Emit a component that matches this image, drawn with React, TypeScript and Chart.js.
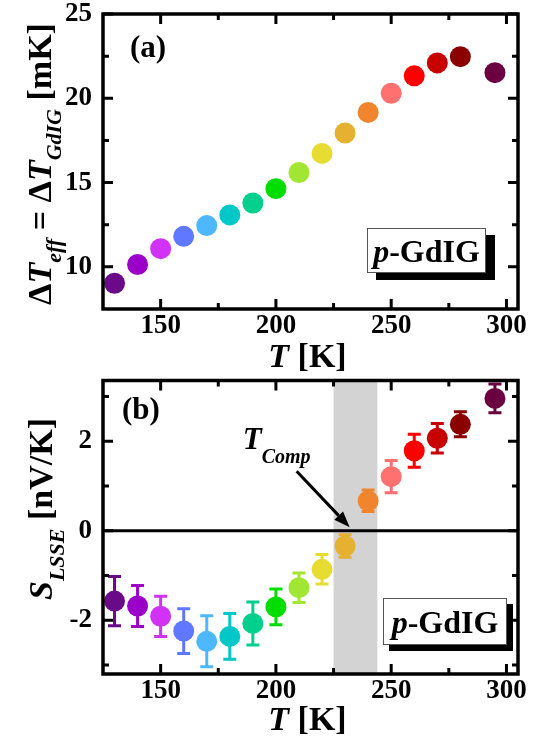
import React, { useEffect, useRef } from 'react';
import { Chart, registerables } from 'chart.js';

Chart.register(...registerables);

// ---------- data ----------
const temps = [130, 140, 150, 160, 170, 180, 190, 200, 210, 220, 230, 240, 250, 260, 270, 280, 295];
const dTeff = [9.03, 10.14, 11.08, 11.81, 12.45, 13.08, 13.79, 14.64, 15.6, 16.73, 17.94, 19.16, 20.3, 21.33, 22.1, 22.47, 21.52];
const sLsse = [-1.57, -1.68, -1.91, -2.24, -2.47, -2.36, -2.07, -1.7, -1.27, -0.86, -0.34, 0.67, 1.21, 1.79, 2.07, 2.38, 2.96];
const sErr = [0.55, 0.46, 0.45, 0.5, 0.57, 0.51, 0.48, 0.4, 0.33, 0.33, 0.25, 0.24, 0.36, 0.37, 0.33, 0.28, 0.32];
const pointColors = [
  '#6a0a88', '#9b00c8', '#d232f5', '#5f78ff', '#4db8ff', '#00c8c8', '#00d08c', '#00dd00',
  '#a0e632', '#e6dc32', '#e6b030', '#f0852d', '#ff7070', '#ff0000', '#c80000', '#8b0000', '#6b0040',
];
const xRange = [125, 305];
const xMajor = [150, 200, 250, 300];
const xMinor = [175, 225, 275];
const yRangeA = [7.5, 25];
const yMajorA = [10, 15, 20, 25];
const yMinorA = [12.5, 17.5, 22.5];
const yRangeB = [-3.2, 3.36];
const yMajorB = [-2, 0, 2];
const yMinorB = [-3, -1, 1, 3];
const compBand = [225, 244];
const arrowFrom = [209, 1.33];
const arrowTo = [232, 0.08];
const tCompAt = [185.6, 1.82];

// ---------- helpers ----------
const SERIF = "'Liberation Serif', 'Times New Roman', serif";
type Seg = { t: string; size: number; italic?: boolean; dy?: number; normal?: boolean };
const fontOf = (s: Seg) => `${s.italic ? 'italic ' : ''}${s.normal ? '' : 'bold '}${s.size}px ${SERIF}`;

function rich(ctx: CanvasRenderingContext2D, segs: Seg[], x: number, y: number, align: 'left' | 'center') {
  ctx.textBaseline = 'alphabetic';
  ctx.textAlign = 'left';
  let total = 0;
  const ws = segs.map((s) => {
    ctx.font = fontOf(s);
    const w = ctx.measureText(s.t).width;
    total += w;
    return w;
  });
  let cx = align === 'center' ? x - total / 2 : x;
  segs.forEach((s, i) => {
    ctx.font = fontOf(s);
    ctx.fillText(s.t, cx, y + (s.dy || 0));
    cx += ws[i];
  });
}

function drawFrame(chart: any, yMaj: number[], yMin: number[]) {
  const { ctx, chartArea: a, scales } = chart;
  const x = scales.x;
  const y = scales.y;
  ctx.save();
  ctx.strokeStyle = '#000';
  ctx.lineWidth = 3;
  ctx.lineCap = 'butt';
  const vt = (v: number, len: number) => {
    const p = x.getPixelForValue(v);
    ctx.beginPath();
    ctx.moveTo(p, a.bottom);
    ctx.lineTo(p, a.bottom - len);
    ctx.moveTo(p, a.top);
    ctx.lineTo(p, a.top + len);
    ctx.stroke();
  };
  const ht = (v: number, len: number) => {
    const p = y.getPixelForValue(v);
    ctx.beginPath();
    ctx.moveTo(a.left, p);
    ctx.lineTo(a.left + len, p);
    ctx.moveTo(a.right, p);
    ctx.lineTo(a.right - len, p);
    ctx.stroke();
  };
  xMajor.forEach((v) => vt(v, 10));
  xMinor.forEach((v) => vt(v, 6));
  yMaj.forEach((v) => ht(v, 10));
  yMin.forEach((v) => ht(v, 6));
  ctx.lineWidth = 3.5;
  ctx.strokeRect(a.left, a.top, a.right - a.left, a.bottom - a.top);
  ctx.restore();
}

function drawTag(ctx: CanvasRenderingContext2D, left: number, top: number, w: number, h: number, sx: number, sy: number, base: number) {
  ctx.save();
  ctx.fillStyle = '#000';
  ctx.fillRect(left + sx, top + sy, w, h);
  ctx.fillStyle = '#fff';
  ctx.fillRect(left, top, w, h);
  ctx.strokeStyle = '#555';
  ctx.lineWidth = 1;
  ctx.strokeRect(left + 0.5, top + 0.5, w - 1, h - 1);
  ctx.fillStyle = '#000';
  rich(ctx, [{ t: 'p', size: 32, italic: true }, { t: '-GdIG', size: 32 }], left + w / 2, top + base, 'center');
  ctx.restore();
}

function yTitle(ctx: CanvasRenderingContext2D, segs: Seg[], bx: number, cy: number) {
  ctx.save();
  ctx.translate(bx, cy);
  ctx.rotate(-Math.PI / 2);
  ctx.fillStyle = '#000';
  rich(ctx, segs, 0, 0, 'center');
  ctx.restore();
}

const tickFont = { family: SERIF, size: 27, weight: 'bold' as const, lineHeight: 1 };

const noPad = (s: any) => {
  s.paddingTop = 0;
  s.paddingBottom = 0;
  s.paddingLeft = 0;
  s.paddingRight = 0;
};

function baseOptions(yr: number[], yMaj: number[], padTop: number, xHeight: number) {
  return {
    responsive: false,
    animation: false as const,
    events: [],
    layout: { padding: { left: 0, right: 20, top: padTop, bottom: 0 } },
    plugins: { legend: { display: false }, tooltip: { enabled: false } },
    scales: {
      x: {
        type: 'linear' as const,
        min: xRange[0],
        max: xRange[1],
        grid: { display: false, drawTicks: false },
        border: { display: false },
        afterBuildTicks: (s: any) => {
          s.ticks = xMajor.map((v) => ({ value: v }));
        },
        afterFit: (s: any) => {
          s.height = xHeight;
          noPad(s);
        },
        ticks: { font: tickFont, color: '#000', padding: 4, maxRotation: 0, autoSkip: false, callback: (v: any) => String(v) },
      },
      y: {
        type: 'linear' as const,
        min: yr[0],
        max: yr[1],
        grid: { display: false, drawTicks: false },
        border: { display: false },
        afterBuildTicks: (s: any) => {
          s.ticks = yMaj.map((v) => ({ value: v }));
        },
        afterFit: (s: any) => {
          s.width = 103;
          noPad(s);
        },
        ticks: { font: tickFont, color: '#000', padding: 11, autoSkip: false, callback: (v: any) => String(v) },
      },
    },
  };
}

export default function App() {
  const topRef = useRef<HTMLCanvasElement>(null);
  const botRef = useRef<HTMLCanvasElement>(null);

  useEffect(() => {
    const topPlugin = {
      id: 'topDeco',
      afterDraw(chart: any) {
        const { ctx, chartArea: a } = chart;
        drawFrame(chart, yMajorA, yMinorA);
        ctx.save();
        ctx.fillStyle = '#000';
        rich(ctx, [{ t: '(a)', size: 31 }], 130, 57, 'left');
        drawTag(ctx, 367, 228, 119, 45, 9, 7, 34);
        rich(ctx, [{ t: 'T', size: 34, italic: true }, { t: ' [K]', size: 34 }], (a.left + a.right) / 2 - 3, 367, 'center');
        yTitle(
          ctx,
          [
            { t: 'Δ', size: 34 },
            { t: 'T', size: 34, italic: true },
            { t: 'eff', size: 22, italic: true, dy: 10 },
            { t: ' = Δ', size: 34 },
            { t: 'T', size: 34, italic: true },
            { t: 'GdIG', size: 22, italic: true, dy: 10 },
            { t: ' [mK]', size: 34 },
          ],
          51,
          164
        );
        ctx.restore();
      },
    };

    const botPlugin = {
      id: 'botDeco',
      beforeDatasetsDraw(chart: any) {
        const { ctx, chartArea: a, scales } = chart;
        const x = scales.x;
        const y = scales.y;
        ctx.save();
        const b0 = x.getPixelForValue(compBand[0]);
        const b1 = x.getPixelForValue(compBand[1]);
        ctx.fillStyle = '#d3d3d3';
        ctx.fillRect(b0, a.top, b1 - b0, a.bottom - a.top);
        const zy = y.getPixelForValue(0);
        ctx.strokeStyle = '#000';
        ctx.lineWidth = 3;
        ctx.beginPath();
        ctx.moveTo(a.left, zy);
        ctx.lineTo(a.right, zy);
        ctx.stroke();
        temps.forEach((t, i) => {
          const px = x.getPixelForValue(t);
          const pt = y.getPixelForValue(sLsse[i] + sErr[i]);
          const pb = y.getPixelForValue(sLsse[i] - sErr[i]);
          ctx.strokeStyle = pointColors[i];
          ctx.lineWidth = 3;
          ctx.beginPath();
          ctx.moveTo(px, pt);
          ctx.lineTo(px, pb);
          ctx.moveTo(px - 6.5, pt);
          ctx.lineTo(px + 6.5, pt);
          ctx.moveTo(px - 6.5, pb);
          ctx.lineTo(px + 6.5, pb);
          ctx.stroke();
        });
        ctx.restore();
      },
      afterDraw(chart: any) {
        const { ctx, chartArea: a, scales } = chart;
        const x = scales.x;
        const y = scales.y;
        drawFrame(chart, yMajorB, yMinorB);
        ctx.save();
        ctx.fillStyle = '#000';
        rich(ctx, [{ t: '(b)', size: 31 }], 122, 49, 'left');
        rich(
          ctx,
          [
            { t: 'T', size: 31, italic: true },
            { t: 'Comp', size: 20, italic: true, dy: 14 },
          ],
          x.getPixelForValue(tCompAt[0]),
          y.getPixelForValue(tCompAt[1]),
          'left'
        );
        // arrow
        const x0 = x.getPixelForValue(arrowFrom[0]);
        const y0 = y.getPixelForValue(arrowFrom[1]);
        const x1 = x.getPixelForValue(arrowTo[0]);
        const y1 = y.getPixelForValue(arrowTo[1]);
        const ang = Math.atan2(y1 - y0, x1 - x0);
        const hl = 16;
        const hw = 6;
        const bx = x1 - hl * Math.cos(ang);
        const by = y1 - hl * Math.sin(ang);
        ctx.strokeStyle = '#000';
        ctx.lineWidth = 3;
        ctx.beginPath();
        ctx.moveTo(x0, y0);
        ctx.lineTo(bx, by);
        ctx.stroke();
        ctx.beginPath();
        ctx.moveTo(x1, y1);
        ctx.lineTo(bx + hw * Math.sin(ang), by - hw * Math.cos(ang));
        ctx.lineTo(bx - hw * Math.sin(ang), by + hw * Math.cos(ang));
        ctx.closePath();
        ctx.fill();
        drawTag(ctx, 383, 228, 124, 47, 6, 6, 35);
        rich(ctx, [{ t: 'T', size: 34, italic: true }, { t: ' [K]', size: 34 }], (a.left + a.right) / 2 - 3, 360, 'center');
        yTitle(
          ctx,
          [
            { t: 'S', size: 34, italic: true },
            { t: 'LSSE', size: 22, italic: true, dy: 12 },
            { t: ' [nV/K]', size: 34 },
          ],
          52,
          139
        );
        ctx.restore();
      },
    };

    const top = new Chart(topRef.current!, {
      type: 'scatter',
      data: {
        datasets: [
          {
            data: temps.map((t, i) => ({ x: t, y: dTeff[i] })),
            pointBackgroundColor: pointColors,
            pointBorderWidth: 0,
            pointRadius: 10.5,
            showLine: false,
          },
        ],
      },
      options: baseOptions(yRangeA, yMajorA, 14, 71) as any,
      plugins: [topPlugin],
    });

    const bot = new Chart(botRef.current!, {
      type: 'scatter',
      data: {
        datasets: [
          {
            data: temps.map((t, i) => ({ x: t, y: sLsse[i] })),
            pointBackgroundColor: pointColors,
            pointBorderWidth: 0,
            pointRadius: 10.5,
            showLine: false,
          },
        ],
      },
      options: baseOptions(yRangeB, yMajorB, 10, 65) as any,
      plugins: [botPlugin],
    });

    return () => {
      top.destroy();
      bot.destroy();
    };
  }, []);

  return (
    <div style={{ position: 'absolute', left: 0, top: 0, width: 538, height: 739, background: '#fff' }}>
      <canvas ref={topRef} width={538} height={380} style={{ position: 'absolute', left: 0, top: 0, width: 538, height: 380 }} />
      <canvas ref={botRef} width={538} height={369} style={{ position: 'absolute', left: 0, top: 370, width: 538, height: 369 }} />
    </div>
  );
}
